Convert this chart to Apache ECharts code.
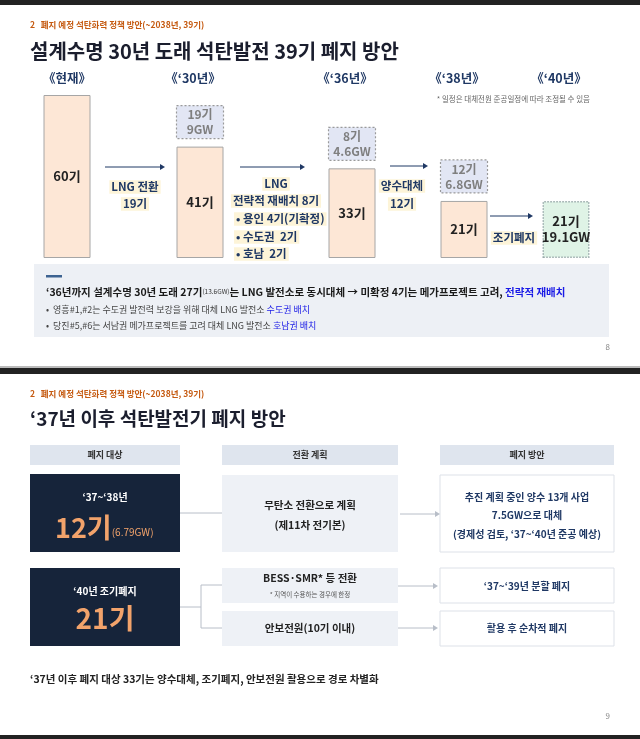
<!DOCTYPE html>
<html><head><meta charset="utf-8">
<script src="https://cdn.jsdelivr.net/npm/echarts@6/dist/echarts.min.js"></script>
<style>html,body{margin:0;padding:0;background:#fff}#c{width:640px;height:739px}</style>
</head><body><div id="c"></div>
<script>
// ---- data ----
const periods = ['《현재》', '《\u201830년》', '《\u201836년》', '《\u201838년》', '《\u201840년》'];
const units = [60, 41, 33, 21, 21];           // 잔여 호기
const retiredUnits = [null, 19, 8, 12, null];  // 폐지 호기
const retiredGW = [null, '9GW', '4.6GW', '6.8GW', null];
const finalGW = '19.1GW';
// ---- layout constants ----
const xPos = [67, 200, 352, 464, 566];
const F = '"Noto Sans CJK KR","Noto Sans",sans-serif';
const NAVY = '#1f3864', ORANGE = '#c55a11';

const chart = echarts.init(document.getElementById('c'));
const T = (x, y, text, o = {}) => ({type: 'text', x, y, style: Object.assign({text, fontFamily: F, fontSize: 12, fill: '#222', verticalAlign: 'middle'}, o)});
const R = (x, y, w, h, o = {}) => ({type: 'rect', shape: {x, y, width: w, height: h}, style: Object.assign({fill: '#eee'}, o)});
const L = (x1, y1, x2, y2, c = '#b8bec8', w = 1) => ({type: 'line', shape: {x1, y1, x2, y2}, style: {stroke: c, lineWidth: w}});
const A = (x1, x2, y, c = NAVY) => [L(x1, y, x2 - 4, y, c, 1), {type: 'polygon', shape: {points: [[x2 - 5, y - 3], [x2, y], [x2 - 5, y + 3]]}, style: {fill: c}}];
const hl = '#fdf4d8';

const g = [];
// page 1
g.push(R(0, 0, 640, 5, {fill: '#222'}));
g.push(T(30, 25, '2   폐지 예정 석탄화력 정책 방안(~2038년, 39기)', {fontSize: 8.5, fill: ORANGE, fontWeight: 'bold'}));
g.push(T(30, 51, '설계수명 30년 도래 석탄발전 39기 폐지 방안', {fontSize: 20, fontWeight: 'bold', fill: '#1b1e2e'}));
periods.forEach((p, i) => g.push(T(xPos[i] - (i === 0 ? 0 : 7), 78, p, {fontSize: 12.5, fontWeight: 'bold', fill: NAVY, align: 'center'})));
g.push(T(590, 99, '* 일정은 대체전원 준공일정에 따라 조정될 수 있음', {fontSize: 7.5, fill: '#666', align: 'right'}));
g.push(...A(105, 165, 167), ...A(240, 305, 167), ...A(390, 428, 166), ...A(490, 533, 216));
const hlT = (x, y, t, o = {}) => T(x, y, t, Object.assign({fontSize: 11.5, fontWeight: 'bold', fill: NAVY, align: 'center', backgroundColor: hl, padding: [1, 2]}, o));
g.push(hlT(135, 187, 'LNG 전환'), hlT(135, 204, '19기'));
g.push(hlT(276, 184, 'LNG'), hlT(276, 201, '전략적 재배치 8기'));
g.push(hlT(234, 219, '• 용인 4기(기확정)', {align: 'left'}), hlT(234, 237, '• 수도권  2기', {align: 'left'}), hlT(234, 254, '• 호남  2기', {align: 'left'}));
g.push(hlT(402, 186, '양수대체'), hlT(402, 204, '12기'));
g.push(hlT(514, 238, '조기폐지'));
g.push(R(34, 264, 575, 73, {fill: '#edf0f5'}));
g.push(R(46, 275, 16, 2.5, {fill: '#3d6391'}));
g.push({type: 'text', x: 46, y: 292, style: {fontFamily: F, verticalAlign: 'middle',
  text: '{b|\u201836년까지 설계수명 30년 도래 27기}{s|(13.6GW)}{b|는 LNG 발전소로 동시대체 → 미확정 4기는 메가프로젝트 고려, }{bl|전략적 재배치}',
  rich: {b: {fontSize: 10.5, fontWeight: 'bold', fill: '#1a1a1a', fontFamily: F}, s: {fontSize: 6.5, fill: '#333', fontFamily: F}, bl: {fontSize: 10.5, fontWeight: 'bold', fill: '#1a1ae6', fontFamily: F}}}});
const rb = (y, a, b) => ({type: 'text', x: 46, y, style: {fontFamily: F, verticalAlign: 'middle', text: '{a|•  ' + a + '}{c|' + b + '}',
  rich: {a: {fontSize: 9, fill: '#444', fontFamily: F}, c: {fontSize: 9, fill: '#1a1ae6', fontFamily: F}}}});
g.push(rb(310, '영흥#1,#2는 수도권 발전력 보강을 위해 대체 LNG 발전소 ', '수도권 배치'));
g.push(rb(326, '당진#5,#6는 서남권 메가프로젝트를 고려 대체 LNG 발전소 ', '호남권 배치'));
g.push(T(610, 347, '8', {fontSize: 8, fill: '#888', align: 'right'}));
g.push(R(0, 366, 640, 2, {fill: '#bbb'}), R(0, 368, 640, 6, {fill: '#222'}));
// page 2
g.push(T(30, 394, '2   폐지 예정 석탄화력 정책 방안(~2038년, 39기)', {fontSize: 8.5, fill: ORANGE, fontWeight: 'bold'}));
g.push(T(30, 419, '\u201837년 이후 석탄발전기 폐지 방안', {fontSize: 19, fontWeight: 'bold', fill: '#1b1e2e'}));
const hdr = [[30, 150, '폐지 대상'], [222, 176, '전환 계획'], [440, 174, '폐지 방안']];
hdr.forEach(h => { g.push(R(h[0], 445, h[1], 20, {fill: '#dfe5ee'})); g.push(T(h[0] + h[1] / 2, 455, h[2], {fontSize: 9, fontWeight: 'bold', fill: '#333', align: 'center'})); });
g.push(R(30, 474, 150, 78, {fill: '#16243a'}), R(30, 568, 150, 78, {fill: '#16243a'}));
g.push(T(105, 497, '\u201837~\u201838년', {fontSize: 10, fontWeight: 'bold', fill: '#fff', align: 'center'}));
g.push({type: 'text', x: 55, y: 528, style: {fontFamily: F, verticalAlign: 'middle', text: '{n|12기}{s|(6.79GW)}',
  rich: {n: {fontSize: 27, fontWeight: 'bold', fill: '#f2a36b', fontFamily: F}, s: {fontSize: 10, fill: '#f2a36b', fontFamily: F, padding: [8, 0, 0, 0]}}}});
g.push(T(105, 591, '\u201840년 조기폐지', {fontSize: 10, fontWeight: 'bold', fill: '#fff', align: 'center'}));
g.push(T(105, 618, '21기', {fontSize: 28, fontWeight: 'bold', fill: '#f2a36b', align: 'center'}));
g.push(R(222, 475, 176, 77, {fill: '#eef1f6', r: 3}), R(222, 568, 176, 35, {fill: '#eef1f6'}), R(222, 611, 176, 35, {fill: '#eef1f6'}));
const mb = {fontSize: 10.5, fontWeight: 'bold', fill: '#222', align: 'center'};
g.push(T(310, 505, '무탄소 전환으로 계획', mb), T(310, 525, '(제11차 전기본)', mb));
g.push(T(310, 578, 'BESS·SMR* 등 전환', mb), T(310, 595, '* 지역이 수용하는 경우에 한정', {fontSize: 6.5, fill: '#555', align: 'center'}));
g.push(T(310, 628, '안보전원(10기 이내)', mb));
const wb = {fill: '#fff', stroke: '#dde1e8', lineWidth: 1};
g.push(R(440, 475, 174, 77, Object.assign({r: 3}, wb)), R(440, 568, 174, 35, wb), R(440, 611, 174, 35, wb));
const rbS = {fontSize: 10, fontWeight: 'bold', fill: NAVY, align: 'center'};
g.push(T(527, 497, '추진 계획 중인 양수 13개 사업', rbS), T(527, 515, '7.5GW으로 대체', rbS), T(527, 534, '(경제성 검토, \u201837~\u201840년 준공 예상)', rbS));
g.push(T(527, 586, '\u201837~\u201839년 분할 폐지', rbS), T(527, 628, '활용 후 순차적 폐지', rbS));
g.push(L(180, 513, 222, 513), L(180, 607, 201, 607), L(201, 585, 201, 628), L(201, 585, 222, 585), L(201, 628, 222, 628));
g.push(...A(400, 440, 514, '#b8bec8'), ...A(398, 438, 586, '#b8bec8'), ...A(398, 438, 628, '#b8bec8'));
g.push(T(30, 679, '\u201837년 이후 폐지 대상 33기는 양수대체, 조기폐지, 안보전원 활용으로 경로 차별화', {fontSize: 10.5, fontWeight: 'bold', fill: '#222'}));
g.push(T(610, 716, '9', {fontSize: 8, fill: '#888', align: 'right'}));
g.push(R(0, 735, 640, 4, {fill: '#222'}));

const barData = units.map((u, i) => ({
  value: [xPos[i], u],
  itemStyle: i === 4 ? {color: '#dff3e6', borderColor: '#9aa', borderType: 'dotted', borderWidth: 1.5} : undefined,
  label: i === 4 ? {formatter: u + '기\n' + finalGW, color: '#222', lineHeight: 16} : undefined
}));

chart.setOption({
  animation: false,
  grid: {left: 0, right: 0, top: 95, bottom: 481},
  xAxis: {type: 'value', min: 0, max: 640, show: false},
  yAxis: {type: 'value', min: 0, max: 60, show: false},
  graphic: g,
  series: [{
    type: 'bar', barWidth: 47, data: barData,
    itemStyle: {color: '#fde7d6', borderColor: '#a6a6a6', borderWidth: 1},
    label: {show: true, position: 'inside', formatter: p => units[p.dataIndex] + '기', fontFamily: F, fontSize: 13, fontWeight: 'bold', color: '#222'}
  }, {
    type: 'custom',
    data: retiredUnits.map((r, i) => r == null ? null : [xPos[i], units[i], r]).filter(d => d),
    renderItem: (params, api) => {
      const p = api.coord([api.value(0), api.value(1)]);
      const idx = retiredUnits.findIndex((r, i) => xPos[i] === api.value(0));
      return {type: 'group', children: [
        {type: 'rect', shape: {x: p[0] - 23.5, y: p[1] - 41, width: 47, height: 33},
         style: {fill: '#e2e6f4', stroke: '#9a9a9a', lineDash: [2, 2], lineWidth: 1.2}},
        {type: 'text', x: p[0], y: p[1] - 24.5, style: {text: api.value(2) + '기\n' + retiredGW[idx], fontFamily: F, fontSize: 12, fontWeight: 'bold', fill: '#7f7f7f', align: 'center', verticalAlign: 'middle', lineHeight: 15}}
      ]};
    }
  }]
});
</script></body></html>
